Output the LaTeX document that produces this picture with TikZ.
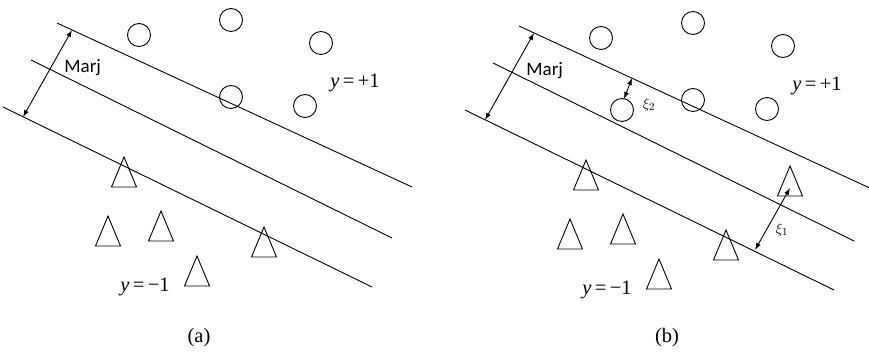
\documentclass[tikz,border=0pt]{standalone}
\usepackage{fontspec}
\setmainfont{Liberation Serif}
\newfontfamily\marjfont{Carlito}
\usetikzlibrary{arrows.meta}

\begin{document}
\begin{tikzpicture}[x=1pt,y=-1pt,>={Latex[length=7pt,width=5pt]},line width=0.9pt,
    font=\fontsize{20.5}{24}\selectfont]
  \useasboundingbox (0,0) rectangle (869,352);
  \tikzset{point/.style={draw,circle,minimum size=23pt,inner sep=0pt,line width=0.9pt}}
  % --- common part of both panels, (b) is shifted ---
  \foreach \pan/\sx/\sy in {a/0/0,b/462/3}{
  \begin{scope}[shift={(\sx,\sy)}]
    % --- the three parallel lines ---
    \coordinate (U1\pan) at (57,23);  \coordinate (U2\pan) at (412,187);
    \coordinate (M1\pan) at (31,60);  \coordinate (M2\pan) at (392,238);
    \coordinate (L1\pan) at (3,107);  \coordinate (L2\pan) at (372,287);
    \draw (U1\pan) -- (U2\pan);
    \draw (M1\pan) -- (M2\pan);
    \draw (L1\pan) -- (L2\pan);
    % --- margin arrow ---
    \coordinate (MT\pan) at (72,30);
    \coordinate (MB\pan) at (23,117);
    \draw[<->] (MT\pan) -- (MB\pan);
    \node[right,inner sep=0pt] (marj\pan) at (64,68) {\fontsize{19}{22}\selectfont\marjfont Marj};
    % --- class +1 ---
    \foreach \x/\y [count=\i] in {139/35,231/20,321/43,231/97,305/106}
      \node[point] (c\i\pan) at (\x,\y) {};
    % --- class -1 ---
    \foreach \x/\y [count=\i] in {124/157,108/216,161/211,264/227,197/256}
      \draw (\x,\y) coordinate (t\i\pan) -- ++(-12.5,30) -- ++(25,0) -- cycle;
    \node (yp\pan) at (355,83) {\textit{y}\,=\,+1};
    \node (ym\pan) at (145,287) {\textit{y}\,=\,−1};
  \end{scope}
  }
  \node (capa) at (199,338) {(a)};
  \node (capb) at (667,338) {(b)};
  % --- slack points in (b) ---
  \node[point] (c6b) at (622,110) {};
  \draw (790,166) coordinate (t6b) -- ++(-12.5,30) -- ++(25,0) -- cycle;
  \coordinate (X2a) at (632,78);
  \coordinate (X2b) at (624,99);
  \draw[<->] (X2a) -- (X2b);
  \node (xi2) at (649,105) {\fontsize{15}{18}\selectfont$\xi_2$};
  \coordinate (X1a) at (790,188);
  \coordinate (X1b) at (755,250);
  \draw[<->] (X1a) -- (X1b);
  \node (xi1) at (782,230) {\fontsize{15}{18}\selectfont$\xi_1$};
\end{tikzpicture}
\end{document}
